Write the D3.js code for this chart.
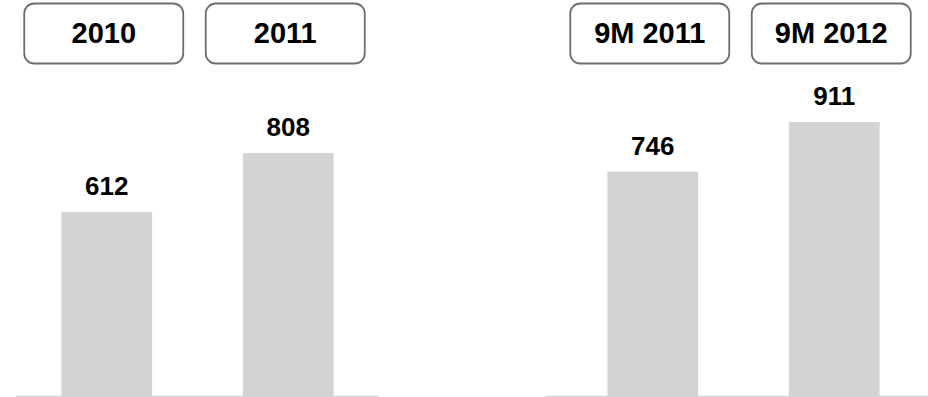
<!DOCTYPE html>
<html>
<head>
<meta charset="utf-8">
<script src="https://cdn.jsdelivr.net/npm/d3@7"></script>
<style>
  body { margin: 0; background: #fff; }
  svg { display: block; font-family: "Liberation Sans", Arial, sans-serif; }
</style>
</head>
<body>
<svg id="chart"></svg>
<script>
// annual figures (left panel) and nine-month figures (right panel)
const annualCategories = ["2010", "2011"];
const annualValues = [612, 808];
const ninemCategories = ["9M 2011", "9M 2012"];
const ninemValues = [746, 911];

const width = 928, height = 397;
const baseY = 396;

const svg = d3.select("#chart").attr("width", width).attr("height", height);

// shared value scale so both panels compare
const y = d3.scaleLinear().domain([0, 1000]).range([baseY, baseY - 300.7]);

function drawPanel(cats, vals, bandRange, lineRange) {
    const data = cats.map((c, i) => ({ cat: c, val: vals[i] }));
    const x = d3.scaleBand().domain(cats).range(bandRange).paddingInner(0.5).paddingOuter(0.25);
    const g = svg.append("g");

    // baseline
    g.append("line")
        .attr("x1", lineRange[0]).attr("x2", lineRange[1])
        .attr("y1", baseY + 0.5).attr("y2", baseY + 0.5)
        .attr("stroke", "#d4d4d4").attr("stroke-width", 1.5);

    // bars
    g.selectAll("rect.bar").data(data).enter().append("rect")
        .attr("class", "bar")
        .attr("x", d => x(d.cat)).attr("y", d => y(d.val))
        .attr("width", x.bandwidth())
        .attr("height", d => y(0) - y(d.val))
        .attr("fill", "#d3d3d3");

    // value labels
    g.selectAll("text.val").data(data).enter().append("text")
        .attr("class", "val")
        .attr("x", d => x(d.cat) + x.bandwidth() / 2)
        .attr("y", d => y(d.val) - 17)
        .attr("text-anchor", "middle")
        .attr("font-size", "26px").attr("font-weight", "bold")
        .attr("fill", "#000")
        .text(d => d.val);

    // category header boxes
    const boxW = 159, boxH = 60;
    const head = g.selectAll("g.head").data(data).enter().append("g")
        .attr("class", "head")
        .attr("transform", d => `translate(${x(d.cat) + x.bandwidth() / 2 - 3},0)`);
    head.append("rect")
        .attr("x", -boxW / 2).attr("y", 3.5)
        .attr("width", boxW).attr("height", boxH)
        .attr("rx", 10).attr("ry", 10)
        .attr("fill", "#fff").attr("stroke", "#6e6e6e").attr("stroke-width", 1.8);
    head.append("text")
        .attr("x", 0).attr("y", 43)
        .attr("text-anchor", "middle")
        .attr("font-size", "29px").attr("font-weight", "bold")
        .attr("fill", "#000")
        .text(d => d.cat);
}

drawPanel(annualCategories, annualValues, [16, 379], [16, 379]);
drawPanel(ninemCategories, ninemValues, [562, 925], [545, 928]);
</script>
</body>
</html>
